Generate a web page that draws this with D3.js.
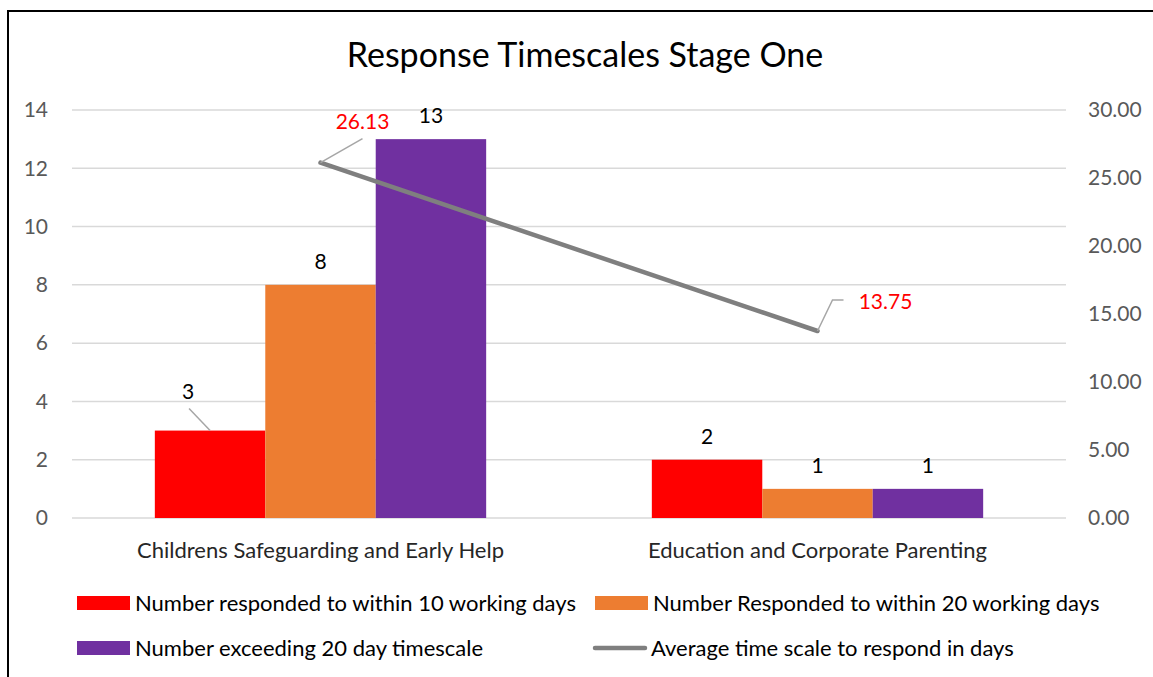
<!DOCTYPE html>
<html>
<head>
<meta charset="utf-8">
<script src="https://cdn.jsdelivr.net/npm/d3@7"></script>
<style>
  body { margin: 0; background: #fff; }
  text { font-family: Lato, "Open Sans", sans-serif; }
</style>
</head>
<body>
<div class="chart"></div>
<script>
const categories = ["Childrens Safeguarding and Early Help", "Education and Corporate Parenting"];
const seriesNames = [
  "Number responded to within 10 working days",
  "Number Responded to within 20 working days",
  "Number exceeding 20 day timescale"
];
const within10 = [3, 2];
const within20 = [8, 1];
const exceeding20 = [13, 1];
const lineName = "Average time scale to respond in days";
const averageDays = [26.13, 13.75];
const leftTicks = [0, 2, 4, 6, 8, 10, 12, 14];
const rightTicks = [0, 5, 10, 15, 20, 25, 30];

const colors = ["#ff0000", "#ed7d31", "#7030a0"];
const lineColor = "#7f7f7f";

const dims = { width: 1153, height: 677, left: 72, right: 1066, top: 110, bottom: 518 };

const svg = d3.select(".chart").append("svg")
  .attr("width", dims.width).attr("height", dims.height);

// border (only top and left edges show in the frame)
svg.append("rect").attr("x", 8).attr("y", 11).attr("width", 1200).attr("height", 700)
  .attr("fill", "none").attr("stroke", "#000").attr("stroke-width", 2);

svg.append("text").attr("x", 585).attr("y", 67).attr("text-anchor", "middle")
  .attr("font-size", 34).attr("fill", "#000").text("Response Timescales Stage One");

const x0 = d3.scaleBand().domain(categories).range([dims.left, dims.right])
  .paddingInner(1 / 3).paddingOuter(1 / 6);
const x1 = d3.scaleBand().domain(seriesNames).range([0, x0.bandwidth()]);
const y = d3.scaleLinear().domain([0, 14]).range([dims.bottom, dims.top]);
const y2 = d3.scaleLinear().domain([0, 30]).range([dims.bottom, dims.top]);

// gridlines
svg.append("g").selectAll("line").data(leftTicks).join("line")
  .attr("x1", dims.left).attr("x2", dims.right)
  .attr("y1", d => y(d)).attr("y2", d => y(d))
  .attr("stroke", "#d9d9d9").attr("stroke-width", 1.5);

const leftAxis = svg.append("g").attr("transform", `translate(${dims.left},0)`)
  .call(d3.axisLeft(y).tickValues(leftTicks).tickSize(0).tickPadding(24));
const rightAxis = svg.append("g").attr("transform", `translate(${dims.right},0)`)
  .call(d3.axisRight(y2).tickValues(rightTicks).tickSize(0).tickPadding(22).tickFormat(d3.format(".2f")));
[leftAxis, rightAxis].forEach(a => {
  a.select(".domain").remove();
  a.selectAll("text").attr("font-size", 21).attr("fill", "#595959").attr("font-family", "Lato");
});

const catAxis = svg.append("g").attr("transform", `translate(0,${dims.bottom})`)
  .call(d3.axisBottom(x0).tickSize(0).tickPadding(24));
catAxis.select(".domain").remove();
catAxis.selectAll("text").attr("font-size", 22).attr("fill", "#262626").attr("font-family", "Lato");

// bars
const seriesValues = [within10, within20, exceeding20];
const barData = [];
categories.forEach((c, ci) => {
  seriesNames.forEach((s, si) => {
    barData.push({ cat: c, series: s, value: seriesValues[si][ci], color: colors[si] });
  });
});

svg.append("g").selectAll("rect").data(barData).join("rect")
  .attr("x", d => x0(d.cat) + x1(d.series))
  .attr("width", x1.bandwidth())
  .attr("y", d => y(d.value))
  .attr("height", d => y(0) - y(d.value))
  .attr("fill", d => d.color);

// bar labels (the first one is pulled out with a leader line)
const isMoved = (d) => d.cat === categories[0] && d.series === seriesNames[0];
svg.append("g").selectAll("text").data(barData).join("text")
  .attr("x", d => x0(d.cat) + x1(d.series) + x1.bandwidth() / 2 + (isMoved(d) ? -22 : 0))
  .attr("y", d => y(d.value) - (isMoved(d) ? 32 : 16))
  .attr("text-anchor", "middle").attr("font-size", 21).attr("fill", "#000")
  .text(d => d.value);

const b3 = barData[0];
const b3x = x0(b3.cat) + x1(b3.series) + x1.bandwidth() / 2;
svg.append("line")
  .attr("x1", b3x).attr("y1", y(b3.value))
  .attr("x2", b3x - 21).attr("y2", y(b3.value) - 22)
  .attr("stroke", "#a6a6a6").attr("stroke-width", 1.5);

// line series
const linePts = categories.map((c, i) => ({ x: x0(c) + x0.bandwidth() / 2, y: y2(averageDays[i]), v: averageDays[i] }));
svg.append("path").datum(linePts)
  .attr("d", d3.line().x(d => d.x).y(d => d.y))
  .attr("fill", "none").attr("stroke", lineColor).attr("stroke-width", 4.5).attr("stroke-linecap", "round");

// line label leaders
const p0 = linePts[0], p1 = linePts[1];
svg.append("path")
  .attr("d", `M${p0.x},${p0.y}L${p0.x + 42},${p0.y - 24}`)
  .attr("fill", "none").attr("stroke", "#a6a6a6").attr("stroke-width", 1.5);
svg.append("path")
  .attr("d", `M${p1.x},${p1.y}L${p1.x + 15},${p1.y - 31}L${p1.x + 26},${p1.y - 31}`)
  .attr("fill", "none").attr("stroke", "#a6a6a6").attr("stroke-width", 1.5);

svg.append("text").attr("x", p0.x + 42).attr("y", p0.y - 34)
  .attr("text-anchor", "middle").attr("font-size", 21).attr("fill", "#ff0000").text(averageDays[0].toFixed(2));
svg.append("text").attr("x", p1.x + 68).attr("y", p1.y - 22)
  .attr("text-anchor", "middle").attr("font-size", 21).attr("fill", "#ff0000").text(averageDays[1].toFixed(2));

// legend
const legendItems = [
  { name: seriesNames[0], color: colors[0], type: "rect", x: 77, y: 603 },
  { name: seriesNames[1], color: colors[1], type: "rect", x: 595, y: 603 },
  { name: seriesNames[2], color: colors[2], type: "rect", x: 77, y: 648 },
  { name: lineName, color: lineColor, type: "line", x: 593, y: 648 }
];
const legend = svg.append("g");
legendItems.forEach(it => {
  const g = legend.append("g").attr("transform", `translate(${it.x},${it.y})`);
  if (it.type === "rect") {
    g.append("rect").attr("x", 0).attr("y", -7).attr("width", 53).attr("height", 14).attr("fill", it.color);
  } else {
    g.append("line").attr("x1", 2).attr("x2", 52).attr("y1", 0).attr("y2", 0)
      .attr("stroke", it.color).attr("stroke-width", 4.5).attr("stroke-linecap", "round");
  }
  g.append("text").attr("x", 58).attr("y", 0).attr("dy", "0.35em")
    .attr("font-size", 22).attr("fill", "#000").text(it.name);
});
</script>
</body>
</html>
